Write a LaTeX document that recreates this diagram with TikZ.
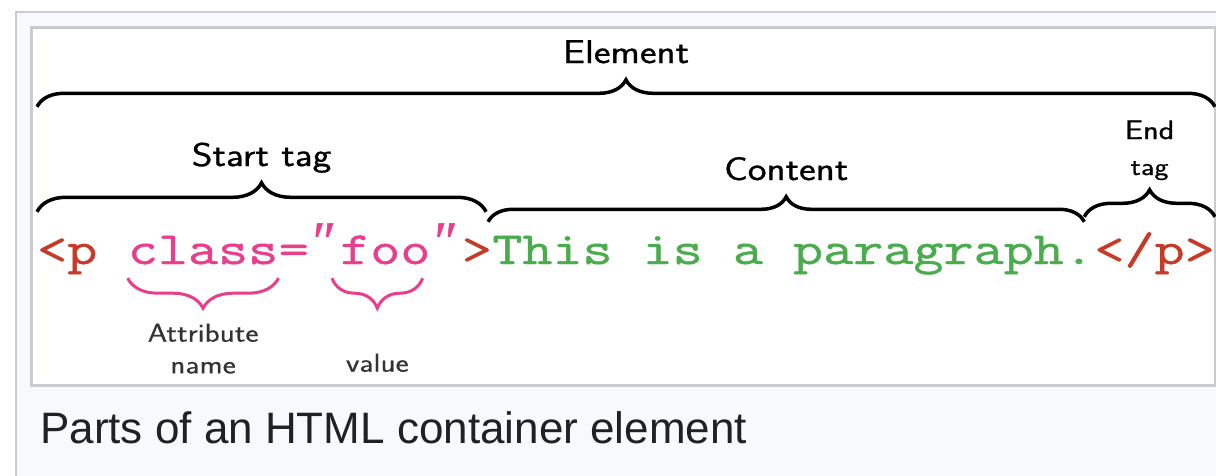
\documentclass[tikz,border=0pt]{standalone}
\usepackage{fontspec}
\usepackage{xcolor}
\definecolor{framegray}{HTML}{C8CCD1}
\definecolor{framefill}{HTML}{F8F9FA}
\definecolor{tagred}{RGB}{198,58,40}
\definecolor{attrpink}{RGB}{232,62,140}
\definecolor{textgreen}{RGB}{74,172,76}
\definecolor{captiongray}{HTML}{202122}
\newfontfamily\codefont[FakeStretch=1.27, FakeBold=1]{Latin Modern Mono}
\newfontfamily\quotefont[FakeBold=1]{Liberation Serif}
\newfontfamily\bracefont[FakeStretch=1.2, FakeBold=0.8]{Latin Modern Sans}
\newfontfamily\namefont[FakeStretch=1.2, FakeBold=0.4]{Latin Modern Sans}
\newfontfamily\captionfont{Liberation Sans}
\usepackage{tikz}
\usetikzlibrary{positioning, decorations.pathreplacing}

\begin{document}
\begin{tikzpicture}[x=1pt, y=-1pt,
	code/.style={inner sep=0pt, text height=30pt, text depth=10pt, font=\codefont\fontsize{46}{52}\selectfont},
	brace/.style={decorate, decoration={brace, amplitude=#1}, line width=3.5pt},
	brace/.default=27pt,
	bracelabel/.style={inner sep=0pt, text depth=7pt, font=\bracefont\fontsize{33}{40}\selectfont},
	smalllabel/.style={inner sep=0pt, text height=18pt, text depth=5pt, text=black!80, font=\namefont\fontsize{26}{30}\selectfont},
]

\def \codey{264}
\def \cw{30.6pt} % one code character

\useasboundingbox (0,0) rectangle (1216,476);

\draw[framegray, fill=framefill, line width=2pt] (16,12) rectangle (1240,500); % outer frame
\draw[framegray, fill=white, line width=3pt] (31,28) rectangle (1215,385); % picture box

% the code line
\node[code, text=tagred, anchor=base west] (lt) at (37,\codey) {<p\ \null};
\node[code, text=attrpink, right=0pt of lt]   (attr) {class};
\node[code, text=attrpink, right=0pt of attr] (eq)   {=};
\node[code, text=attrpink, right=0pt of eq, minimum width=\cw]  (qa) {\quotefont\fontsize{56}{56}\selectfont\raisebox{4pt}{″}};
\node[code, text=attrpink, right=0pt of qa]   (val)  {foo};
\node[code, text=attrpink, right=0pt of val, minimum width=\cw] (qb) {\quotefont\fontsize{56}{56}\selectfont\raisebox{4pt}{″}};
\node[code, text=tagred, right=0pt of qb]     (gt)   {>};
\node[code, text=textgreen, right=0pt of gt]  (body) {This is a paragraph.};
\node[code, text=tagred, right=0pt of body]   (ct)   {</p>};

% black braces above
\draw[brace] ([yshift=127pt]lt.north west) -- ([yshift=127pt]ct.north east)
	node[midway, above=35pt, bracelabel] (elemlbl) {Element};
\draw[brace=29pt] ([yshift=22pt]lt.north west) -- ([xshift=-6pt, yshift=22pt]gt.north east)
	node[midway, above=37pt, bracelabel] (startlbl) {Start tag};
\draw[brace=25pt] ([xshift=-4pt, yshift=12pt]body.north west) -- ([xshift=-10pt, yshift=12pt]body.north east)
	node[midway, above=33pt, bracelabel] (contentlbl) {Content};
\draw[brace] ([xshift=-10pt, yshift=17pt]ct.north west) -- ([yshift=17pt]ct.north east)
	node[midway, above=33pt, bracelabel, text height=15pt, font=\namefont\fontsize{25}{30}\selectfont] (taglbl) {tag};
\node[bracelabel, above=12pt of taglbl, font=\bracefont\fontsize{27}{32}\selectfont] (endlbl) {End};

% pink braces below
\draw[brace=30pt, attrpink, line width=3pt] ([yshift=-4pt]attr.south east) -- ([yshift=-4pt]attr.south west)
	node[midway, below=44pt, smalllabel] (attrlbl) {Attribute};
\node[smalllabel, below=7pt of attrlbl] (namelbl) {name};
\draw[brace=30pt, attrpink, line width=3pt] ([xshift=-8pt, yshift=-4pt]val.south east) -- ([xshift=-8pt, yshift=-4pt]val.south west)
	node[midway, below=74pt, smalllabel] (valuelbl) {value};

% caption
\node[anchor=base west, inner sep=0pt, text=captiongray, font=\captionfont\fontsize{44}{52}\selectfont] (caption) at (40,443) {Parts of an HTML container element};

\end{tikzpicture}
\end{document}
